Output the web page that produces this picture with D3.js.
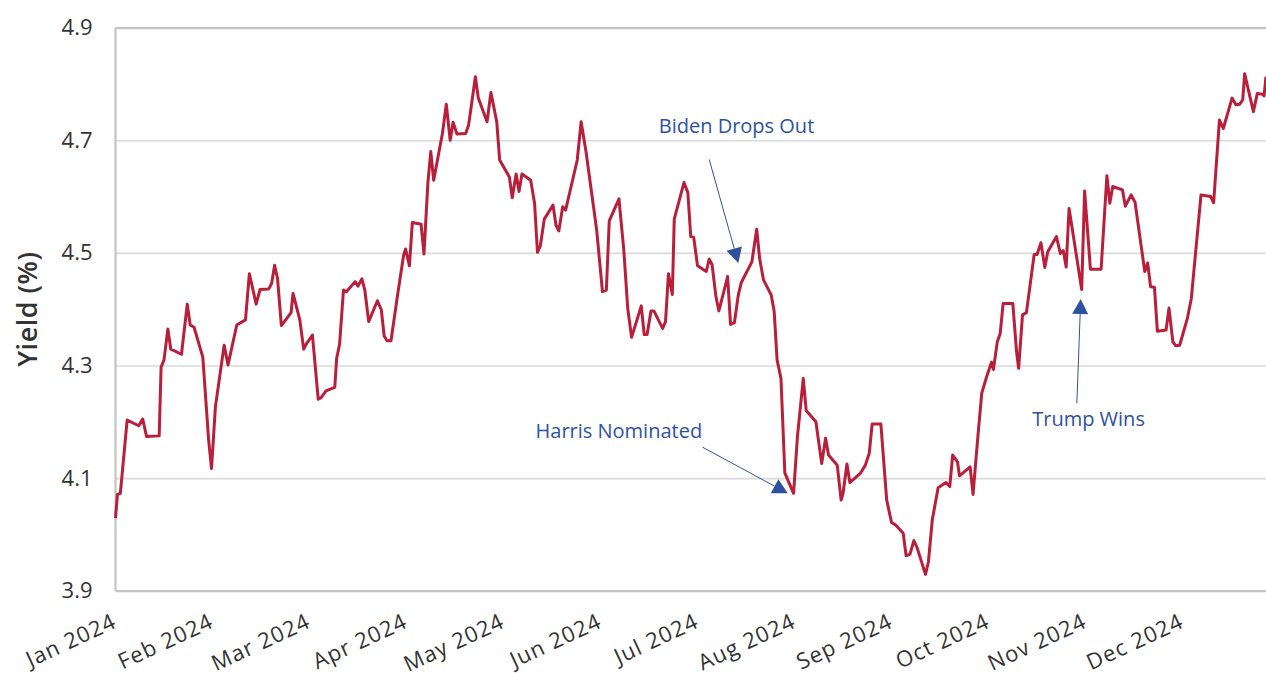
<!DOCTYPE html>
<html>
<head>
<meta charset="utf-8">
<script src="https://cdn.jsdelivr.net/npm/d3@7"></script>
<style>
  body { margin: 0; background: #fff; }
  text { font-family: "Open Sans", sans-serif; }
</style>
</head>
<body>
<div id="chart"></div>
<script>
var width = 1266,
    height = 673;

// position along the axis in months (each month label is one unit apart)
var t = [
  0.00,0.02,0.05,0.12,0.24,0.28,0.32,0.45,0.47,0.50,
  0.54,0.57,0.68,0.74,0.77,0.81,0.90,0.96,0.99,1.03,
  1.12,1.16,1.25,1.34,1.38,1.45,1.49,1.58,1.61,1.64,
  1.67,1.71,1.81,1.83,1.90,1.94,1.97,2.03,2.09,2.12,
  2.17,2.26,2.28,2.31,2.35,2.38,2.47,2.50,2.54,2.57,
  2.61,2.70,2.74,2.77,2.80,2.84,2.91,2.97,2.99,3.03,
  3.06,3.15,3.18,3.22,3.25,3.28,3.37,3.41,3.45,3.48,
  3.52,3.61,3.64,3.71,3.74,3.83,3.87,3.93,3.96,4.06,
  4.09,4.13,4.16,4.19,4.28,4.32,4.35,4.38,4.42,4.51,
  4.54,4.57,4.61,4.64,4.76,4.80,4.85,4.96,5.02,5.06,
  5.09,5.19,5.24,5.28,5.32,5.42,5.45,5.48,5.52,5.55,
  5.64,5.67,5.70,5.74,5.76,5.86,5.90,5.93,5.96,6.00,
  6.09,6.12,6.15,6.19,6.22,6.31,6.34,6.38,6.42,6.45,
  6.56,6.61,6.64,6.68,6.76,6.79,6.82,6.86,6.90,6.99,
  7.03,7.09,7.12,7.22,7.28,7.32,7.35,7.44,7.48,7.50,
  7.54,7.57,7.68,7.73,7.77,7.80,7.89,7.95,8.00,8.04,
  8.12,8.15,8.19,8.23,8.26,8.35,8.38,8.42,8.48,8.56,
  8.60,8.63,8.68,8.70,8.81,8.84,8.89,8.93,8.98,9.03,
  9.05,9.09,9.12,9.15,9.25,9.29,9.31,9.35,9.39,9.47,
  9.50,9.54,9.58,9.61,9.70,9.74,9.77,9.80,9.83,9.96,
  9.99,10.05,10.16,10.22,10.25,10.28,10.38,10.41,10.47,10.51,
  10.61,10.64,10.67,10.71,10.74,10.83,10.86,10.90,10.93,10.97,
  11.05,11.09,11.19,11.29,11.32,11.38,11.42,11.51,11.55,11.59,
  11.62,11.64,11.73,11.77,11.82,11.84,11.86
];

// yield (%)
var yld = [
  4.029,4.071,4.073,4.203,4.193,4.205,4.174,4.175,4.297,4.310,
  4.365,4.329,4.320,4.409,4.372,4.368,4.315,4.168,4.117,4.227,
  4.336,4.301,4.372,4.381,4.463,4.409,4.435,4.436,4.446,4.478,
  4.455,4.371,4.394,4.428,4.381,4.329,4.339,4.354,4.240,4.243,
  4.255,4.261,4.313,4.338,4.434,4.431,4.449,4.441,4.454,4.434,
  4.378,4.415,4.399,4.352,4.344,4.344,4.428,4.496,4.507,4.477,
  4.554,4.551,4.498,4.624,4.680,4.629,4.712,4.764,4.700,4.732,
  4.711,4.712,4.727,4.813,4.775,4.733,4.785,4.733,4.665,4.635,
  4.598,4.640,4.609,4.640,4.629,4.588,4.501,4.513,4.560,4.585,
  4.550,4.539,4.582,4.576,4.665,4.733,4.680,4.541,4.431,4.434,
  4.557,4.596,4.505,4.402,4.350,4.406,4.355,4.355,4.397,4.397,
  4.366,4.378,4.463,4.426,4.560,4.625,4.607,4.529,4.528,4.477,
  4.467,4.489,4.479,4.422,4.397,4.458,4.373,4.376,4.425,4.447,
  4.484,4.542,4.490,4.452,4.425,4.396,4.310,4.277,4.109,4.073,
  4.174,4.277,4.220,4.200,4.126,4.171,4.141,4.123,4.061,4.073,
  4.125,4.092,4.109,4.123,4.144,4.196,4.196,4.061,4.021,4.017,
  4.002,3.962,3.965,3.989,3.978,3.929,3.951,4.026,4.083,4.092,
  4.085,4.141,4.129,4.104,4.120,4.071,4.174,4.251,4.280,4.306,
  4.293,4.342,4.357,4.410,4.410,4.322,4.295,4.390,4.394,4.497,
  4.497,4.518,4.474,4.502,4.529,4.499,4.504,4.475,4.579,4.435,
  4.610,4.471,4.471,4.637,4.588,4.618,4.612,4.583,4.603,4.590,
  4.467,4.482,4.440,4.439,4.361,4.363,4.402,4.342,4.335,4.336,
  4.384,4.419,4.603,4.600,4.589,4.736,4.721,4.775,4.763,4.764,
  4.772,4.818,4.751,4.783,4.782,4.779,4.813
];

var months = ["Jan 2024","Feb 2024","Mar 2024","Apr 2024","May 2024","Jun 2024",
              "Jul 2024","Aug 2024","Sep 2024","Oct 2024","Nov 2024","Dec 2024"];
var yTicks = [3.9, 4.1, 4.3, 4.5, 4.7, 4.9];

// annotations: text anchor and arrow (tail -> tip) in chart units
var notes = [
  {label: "Biden Drops Out",  tx: 5.60, ty: 4.713, x1: 6.12, y1: 4.666, x2: 6.42, y2: 4.482},
  {label: "Harris Nominated", tx: 4.33, ty: 4.171, x1: 6.05, y1: 4.155, x2: 6.93, y2: 4.073},
  {label: "Trump Wins",       tx: 9.45, ty: 4.193, x1: 9.91, y1: 4.233, x2: 9.95, y2: 4.418}
];

var svg = d3.select("#chart").append("svg")
    .attr("width", width)
    .attr("height", height);

var x = d3.scaleLinear().domain([0, 11.86]).range([115.5, 1266]);
var y = d3.scaleLinear().domain([3.9, 4.9]).range([590.7, 27.7]);

//////////////// y axis + gridlines
var yAxis = svg.append("g")
    .attr("transform", "translate(" + x(0) + ",0)")
    .call(d3.axisLeft(y)
        .tickValues(yTicks)
        .tickFormat(d3.format(".1f"))
        .tickSize(-(width - x(0)))
        .tickPadding(23));
yAxis.select(".domain").remove();
yAxis.selectAll(".tick line")
    .attr("stroke", function (d) { return (d == 3.9 || d == 4.9) ? "#c4c4c4" : "#dadada"; })
    .attr("stroke-width", function (d) { return (d == 3.9 || d == 4.9) ? 2.2 : 1.6; });
yAxis.selectAll(".tick text")
    .attr("fill", "#333")
    .attr("font-size", 22)
    .style("font-family", "'Open Sans', sans-serif");

svg.append("line")
    .attr("x1", x(0)).attr("x2", x(0))
    .attr("y1", y(4.9)).attr("y2", y(3.9))
    .attr("stroke", "#c4c4c4")
    .attr("stroke-width", 2.2);

svg.append("text")
    .attr("transform", "translate(37," + ((y(3.9) + y(4.9)) / 2) + ") rotate(-90)")
    .attr("text-anchor", "middle")
    .attr("fill", "#333")
    .attr("font-size", 27)
    .attr("font-weight", 600)
    .style("letter-spacing", "0.5px")
    .text("Yield (%)");

//////////////// x axis labels
var xAxis = svg.append("g")
    .attr("transform", "translate(0," + y(3.9) + ")")
    .call(d3.axisBottom(x)
        .tickValues(d3.range(months.length))
        .tickFormat(function (d) { return months[d]; })
        .tickSize(0));
xAxis.select(".domain").remove();
xAxis.selectAll(".tick text")
    .attr("x", 0).attr("y", 0).attr("dy", 0)
    .attr("text-anchor", "end")
    .attr("transform", "translate(2,36) rotate(-25)")
    .attr("fill", "#333")
    .attr("font-size", 22)
    .style("letter-spacing", "1.1px")
    .style("font-family", "'Open Sans', sans-serif");

//////////////// yield line
var line = d3.line()
    .x(function (i) { return x(t[i]); })
    .y(function (i) { return y(yld[i]); });

svg.append("path")
    .datum(d3.range(t.length))
    .attr("d", line)
    .attr("fill", "none")
    .attr("stroke", "#b91e3a")
    .attr("stroke-width", 3)
    .attr("stroke-linejoin", "round");

//////////////// annotations
var blue = "#2f52a0";
notes.forEach(function (n) {
    var x1 = x(n.x1), y1 = y(n.y1), x2 = x(n.x2), y2 = y(n.y2);
    var len = Math.hypot(x2 - x1, y2 - y1);
    var ux = (x2 - x1) / len, uy = (y2 - y1) / len;
    var bx = x2 - ux * 15, by = y2 - uy * 15;

    svg.append("line")
        .attr("x1", x1).attr("y1", y1)
        .attr("x2", bx).attr("y2", by)
        .attr("stroke", blue)
        .attr("stroke-width", 1);
    svg.append("path")
        .attr("d", "M" + x2 + "," + y2 +
                   "L" + (bx - uy * 8) + "," + (by + ux * 8) +
                   "L" + (bx + uy * 8) + "," + (by - ux * 8) + "Z")
        .attr("fill", blue);
    svg.append("text")
        .attr("x", x(n.tx))
        .attr("y", y(n.ty))
        .attr("fill", blue)
        .attr("font-size", 20)
        .text(n.label);
});
</script>
</body>
</html>
